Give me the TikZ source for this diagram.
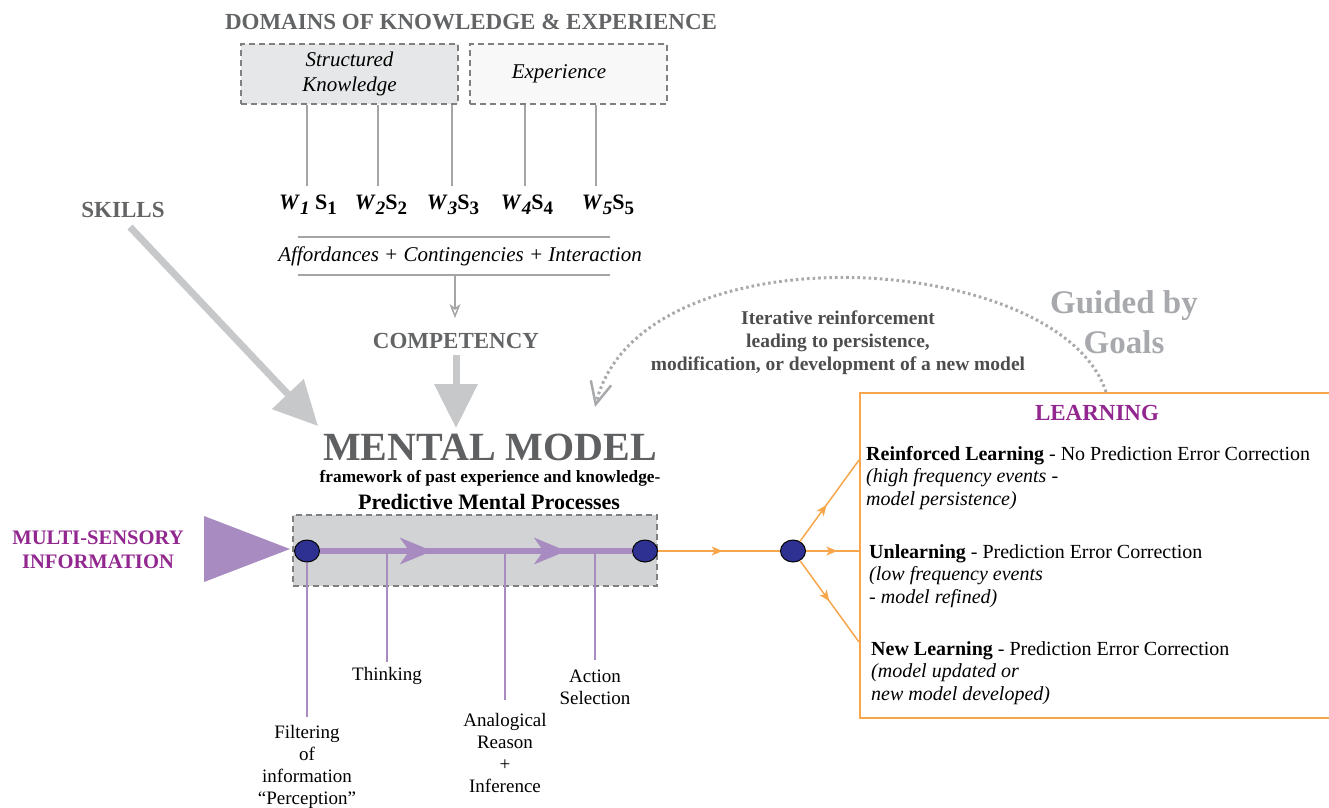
\documentclass[tikz,border=0pt]{standalone}
\usepackage{fontspec}
\setmainfont{Liberation Serif}
\usetikzlibrary{arrows.meta,shapes.geometric,decorations.markings}
\definecolor{titlegray}{RGB}{99,100,102}
\definecolor{mmgray}{RGB}{95,96,98}
\definecolor{lightarrow}{RGB}{199,200,202}
\definecolor{goalgray}{RGB}{167,169,172}
\definecolor{itergray}{RGB}{77,77,79}
\definecolor{boxgray}{RGB}{209,211,212}
\definecolor{skfill}{RGB}{230,231,232}
\definecolor{exfill}{RGB}{247,248,247}
\definecolor{dashgray}{RGB}{128,128,128}
\definecolor{plum}{RGB}{168,139,192}
\definecolor{plumtext}{RGB}{146,39,143}
\definecolor{navy}{RGB}{46,49,146}
\definecolor{orng}{RGB}{247,166,75}
\definecolor{linegray}{RGB}{165,165,165}
\newcommand{\fs}[2]{\fontsize{#1}{#2}\selectfont}
\newcommand{\sbs}[1]{\raisebox{-5pt}{\fs{19}{21}#1}}
\begin{document}
\begin{tikzpicture}[x=1pt,y=-1pt,
  graytitle/.style={font=\bfseries\fs{23}{27}, text=titlegray, inner sep=0pt},
  dbox/.style={draw=dashgray, dashed, dash pattern=on 6pt off 4pt, line width=1.2pt, inner sep=0pt},
  wlab/.style={font=\bfseries\fs{22}{26}, inner sep=0pt},
  thinline/.style={draw=linegray, line width=1.2pt},
  bigarrow/.style={draw=lightarrow, line width=7pt, -{Triangle[length=44pt,width=42pt]}},
  dot/.style={ellipse, draw=black, line width=1pt, fill=navy, minimum width=25pt, minimum height=22pt, inner sep=0pt},
  pline/.style={draw=plum, line width=6pt},
  plumv/.style={draw=plum, line width=1.2pt},
  lab/.style={font=\fs{19}{22}, align=center, inner sep=0pt},
  oline/.style={draw=orng, line width=1.5pt},
  otip/.style={decoration={markings, mark=at position #1 with {\arrow{Stealth[length=11pt,width=9pt,inset=3pt]}}}, postaction=decorate},
  ltext/.style={font=\fs{20}{22.5}, align=left, inner sep=0pt, anchor=north west},
  dotarc/.style={draw=goalgray, line width=3pt, dash pattern=on 2.6pt off 3pt}
]
\useasboundingbox (0,0) rectangle (1329,807);

% ---- top domains
\node[graytitle] (dom) at (471,22) {DOMAINS OF KNOWLEDGE \& EXPERIENCE};
\node[dbox, fill=skfill, minimum width=217pt, minimum height=60pt, font=\itshape\fs{21}{25}, align=center] (sk) at (349.5,74) {Structured\\Knowledge};
\node[dbox, fill=exfill, minimum width=197pt, minimum height=60pt, font=\itshape\fs{21}{25}] (ex) at (568.5,74) {Experience\kern19pt};

\node[wlab] (w1) at (308,205) {\textit{W}\sbs{\textit{1}} S\sbs{1}};
\node[wlab] (w2) at (381,205) {\textit{W}\sbs{\textit{2}}S\sbs{2}};
\node[wlab] (w3) at (453,205) {\textit{W}\sbs{\textit{3}}S\sbs{3}};
\node[wlab] (w4) at (527,205) {\textit{W}\sbs{\textit{4}}S\sbs{4}};
\node[wlab] (w5) at (608,205) {\textit{W}\sbs{\textit{5}}S\sbs{5}};
\coordinate (l1) at (307,186);
\coordinate (l2) at (378,186);
\coordinate (l3) at (452,186);
\coordinate (l4) at (525,186);
\coordinate (l5) at (596,186);
\draw[thinline] (l1) -- (l1 |- sk.south);
\draw[thinline] (l2) -- (l2 |- sk.south);
\draw[thinline] (l3) -- (l3 |- sk.south);
\draw[thinline] (l4) -- (l4 |- ex.south);
\draw[thinline] (l5) -- (l5 |- ex.south);

\coordinate (r1a) at (298,237);
\coordinate (r1b) at (610,237);
\coordinate (r2a) at (298,275);
\coordinate (r2b) at (610,275);
\draw[thinline] (r1a) -- (r1b);
\draw[thinline] (r2a) -- (r2b);
\node[font=\itshape\fs{21}{25}, inner sep=0pt] (aff) at (460,256) {Affordances + Contingencies + Interaction};

\node[graytitle] (comp) at (456,341) {COMPETENCY};
\coordinate (as) at (455,276);
\coordinate (at) at (455,318);
\draw[draw=linegray, line width=1.5pt, -{Stealth[open, fill=white, length=14pt, width=11pt, inset=4pt]}] (as) -- (at);

\node[graytitle] (skills) at (123,210) {SKILLS};
\coordinate (sks) at (130,227);
\coordinate (skt) at (318,426);
\draw[bigarrow] (sks) -- (skt);
\coordinate (cs) at (456,355);
\coordinate (ct) at (456,428);
\draw[bigarrow] (cs) -- (ct);

% ---- mental model
\node[font=\bfseries\fs{40}{44}, text=mmgray, inner sep=0pt] (mm) at (490,447) {MENTAL MODEL};
\node[font=\bfseries\fs{17.3}{20}, inner sep=0pt] (fw) at (490,478) {framework of past experience and knowledge-};
\node[font=\bfseries\fs{22}{25}, inner sep=0pt] (pmp) at (489,502) {Predictive Mental Processes};

\node[dbox, fill=boxgray, minimum width=364pt, minimum height=71pt] (pbox) at (475,550.5) {};
\node[dot] (c1) at (307,551) {};
\node[dot] (c2) at (645,551) {};
\draw[pline, decoration={markings,
   mark=at position 0.36 with {\arrow{Stealth[length=32pt,width=26pt,inset=9pt]}},
   mark=at position 0.79 with {\arrow{Stealth[length=32pt,width=26pt,inset=9pt]}}}, postaction=decorate] (c1) -- (c2);

% ---- process labels
\node[lab, anchor=north] (filt) at (307,725) {Filtering\\of\\information\\“Perception”};
\node[lab, anchor=north] (thk) at (387,667) {Thinking};
\node[lab, anchor=north] (ana) at (505,713) {Analogical\\Reason\\+\\Inference};
\node[lab, anchor=north] (act) at (595,670) {Action\\Selection};
\draw[plumv, shorten >=8pt] (c1.south) -- (filt.north);
\draw[plumv, shorten >=5pt] (thk.north |- c1) -- (thk.north);
\draw[plumv, shorten >=13pt] (ana.north |- c1) -- (ana.north);
\draw[plumv, shorten >=10pt] (act.north |- c1) -- (act.north);

% ---- multi-sensory
\node[font=\bfseries\fs{20.6}{24}, text=plumtext, align=center, inner sep=0pt] (ms) at (98,550) {MULTI-SENSORY\\INFORMATION};
\fill[plum] (204,516) -- (290,549) -- (204,582) -- cycle;

% ---- learning
\node[dot] (c3) at (793,551) {};
\draw[oline, otip=0.53] (c2) -- (c3);
\coordinate (o1) at (859,460);
\coordinate (o2) at (860,551);
\coordinate (o3) at (859,642);
\draw[oline, otip=0.45] (c3) -- (o1);
\draw[oline, otip=0.58] (c3) -- (o2);
\draw[oline, otip=0.5] (c3) -- (o3);
\coordinate (lb1) at (1330,393);
\coordinate (lb2) at (860,393);
\coordinate (lb3) at (860,718);
\coordinate (lb4) at (1330,718);
\draw[oline] (lb1) -- (lb2) -- (lb3) -- (lb4);
\node[font=\bfseries\fs{23}{27}, text=plumtext, inner sep=0pt] (learn) at (1097,413) {LEARNING};
\node[ltext] (rl) at (866,446) {\textbf{Reinforced Learning} - No Prediction Error Correction\\\textit{(high frequency events -}\\\textit{model persistence)}};
\node[ltext] (ul) at (869,544) {\textbf{Unlearning} - Prediction Error Correction\\\textit{(low frequency events}\\\textit{- model refined)}};
\node[ltext] (nl) at (871,641) {\textbf{New Learning} - Prediction Error Correction\\\textit{(model updated or}\\\textit{new model developed)}};

% ---- feedback arc
\coordinate (fa) at (1106,392);
\coordinate (fb) at (595,407);
\draw[dotarc, -{Straight Barb[length=22pt,width=21pt,line width=2.5pt]}] (fa) .. controls (1060,250) and (640,225) .. (fb);
\node[font=\bfseries\fs{19.5}{23}, text=itergray, align=center, inner sep=0pt] (iter) at (838,343) {Iterative reinforcement\\leading to persistence,\\modification, or development of a new model};
\node[font=\bfseries\fs{33}{40}, text=goalgray, align=center, inner sep=0pt] (goal) at (1124,322) {Guided by\\Goals};
\end{tikzpicture}
\end{document}
